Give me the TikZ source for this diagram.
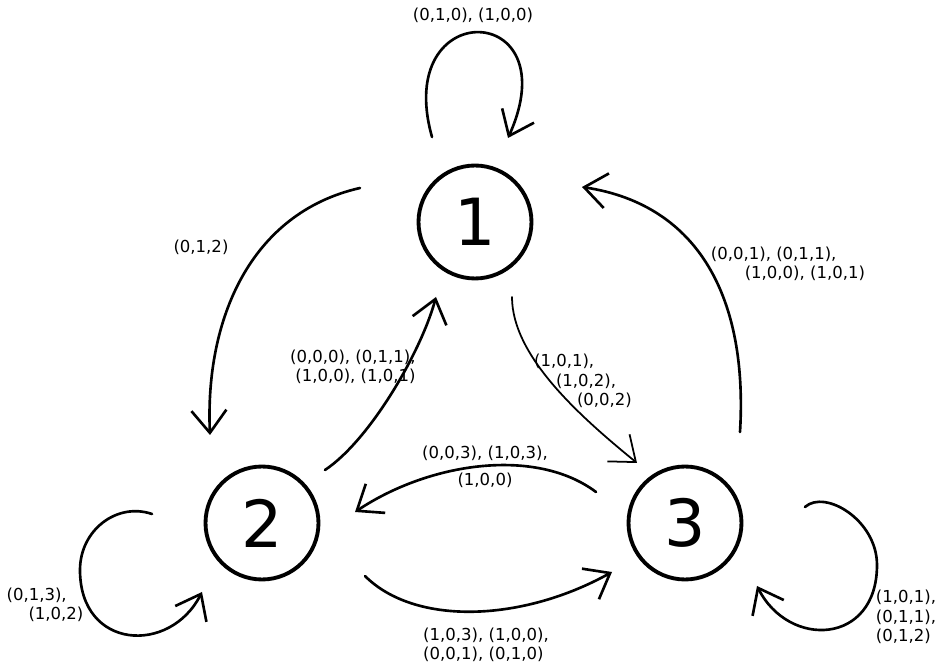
\documentclass[tikz,border=0pt]{standalone}
\usepackage{fontspec}
\setmainfont{DejaVu Sans}
\usetikzlibrary{arrows.meta}
\begin{document}
\begin{tikzpicture}[x=0.02cm,y=-0.02cm,
        state/.style={draw,circle,line width=2.2pt,minimum size=2.26cm,inner sep=0pt,
            font=\fontsize{37}{40}\selectfont},
        edge/.style={line width=1.5pt,line cap=round,
            -{Straight Barb[length=4.5mm,width=7mm]}},
        lbl/.style={inner sep=0pt,font=\fontsize{9.4}{11}\selectfont}]
        \useasboundingbox (0,0) rectangle (941,665);
        %% States
        \node[state] (one) at (475,222) {1};
        \node[state] (two) at (262,523) {2};
        \node[state] (three) at (685,523) {3};
        %% Loops
        \draw[edge] ([shift={(-43,-85)}]one.center) .. controls +(-40,-142) and +(62,-138) .. ([shift={(33,-84)}]one.center);
        \draw[edge] ([shift={(-110,-9)}]two.center) .. controls +(-35,-12) and +(0,-40) .. ([shift={(-182,47)}]two.center)
            .. controls +(0,80) and +(-32,63) .. ([shift={(-60,69)}]two.center);
        \draw[edge] ([shift={(120,-16)}]three.center) .. controls +(20,-18) and +(0,-45) .. ([shift={(192,42)}]three.center)
            .. controls +(0,80) and +(32,63) .. ([shift={(72,63)}]three.center);
        %% Transitions
        \draw[edge] ([shift={(-115,-34)}]one.center) .. controls +(-110,25) and +(-5,-115) .. ([shift={(-52,-88)}]two.center);
        \draw[edge] ([shift={(63,-53)}]two.center) .. controls +(45,-30) and +(-15,55) .. ([shift={(-39,75)}]one.center);
        \draw[edge,line width=1pt] ([shift={(37,75)}]one.center) .. controls +(0,60) and +(-55,-45) .. ([shift={(-48,-60)}]three.center);
        \draw[edge] ([shift={(55,-91)}]three.center) .. controls +(8,-132) and +(118,18) .. ([shift={(107,-35)}]one.center);
        \draw[edge] ([shift={(-89,-31)}]three.center) .. controls +(-60,-45) and +(75,-50) .. ([shift={(93,-11)}]two.center);
        \draw[edge] ([shift={(103,53)}]two.center) .. controls +(50,50) and +(-90,50) .. ([shift={(-73,49)}]three.center);
        %% Labels
        \node[lbl] (loopone) at (473,15) {(0,1,0), (1,0,0)};
        \node[lbl,align=left] (looptwo) at (45,605) {(0,1,3),\\\hspace*{1.33em}(1,0,2)};
        \node[lbl,align=left] (loopthree) at (906,617) {(1,0,1),\\(0,1,1),\\(0,1,2)};
        \node[lbl] (onetwo) at (201,247) {(0,1,2)};
        \node[lbl,align=right,anchor=east] (twoone) at (416,367) {(0,0,0), (0,1,1),\\(1,0,0), (1,0,1)};
        \node[lbl,align=left] (onethree) at (583,381) {(1,0,1),\\\hspace*{1.33em}(1,0,2),\\\hspace*{2.6em}(0,0,2)};
        \node[lbl,align=left] (threeone) at (788,264) {(0,0,1), (0,1,1),\\\hspace*{2.05em}(1,0,0), (1,0,1)};
        \node[lbl,align=center] (threetwo) at (485,467) {(0,0,3), (1,0,3),\\[4pt](1,0,0)};
        \node[lbl,align=left] (twothree) at (486,645) {(1,0,3), (1,0,0),\\(0,0,1), (0,1,0)};
    \end{tikzpicture}
\end{document}
